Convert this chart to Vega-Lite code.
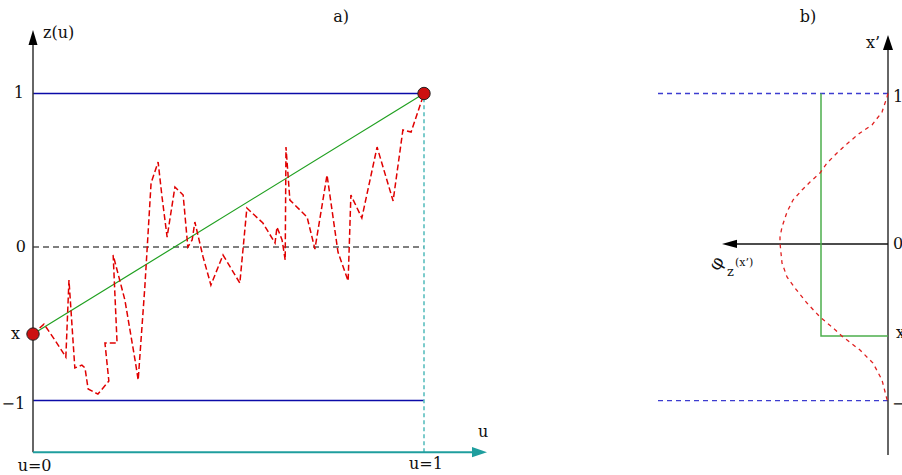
{
  "$schema": "https://vega.github.io/schema/vega-lite/v6.json",
  "width": 902,
  "height": 475,
  "autosize": {"type": "none"},
  "padding": 0,
  "background": "white",
  "config": {"view": {"stroke": null}, "axis": {"disable": true}, "text": {"font": "DejaVu Serif", "fontSize": 17, "color": "#111"}},
  "resolve": {"scale": {"x": "independent"}},
  "layer": [
    {
      "layer": [
        {
          "data": {"values": [{"u0": 0, "u1": 1, "z": 1}, {"u0": 0, "u1": 1, "z": -1}]},
          "mark": {"type": "rule", "color": "#0b0ba8", "strokeWidth": 1.5},
          "encoding": {
            "x": {"field": "u0", "type": "quantitative", "scale": {"domain": [-0.0844, 2.2225], "nice": false, "zero": false}},
            "x2": {"field": "u1"},
            "y": {"field": "z", "type": "quantitative", "scale": {"domain": [-1.485, 1.609], "nice": false, "zero": false}}
          }
        },
        {
          "data": {"values": [{"u0": 0, "u1": 1, "z": 0}]},
          "mark": {"type": "rule", "color": "#555555", "strokeWidth": 1.5, "strokeDash": [6, 4]},
          "encoding": {
            "x": {"field": "u0", "type": "quantitative", "scale": {"domain": [-0.0844, 2.2225], "nice": false, "zero": false}},
            "x2": {"field": "u1"},
            "y": {"field": "z", "type": "quantitative", "scale": {"domain": [-1.485, 1.609], "nice": false, "zero": false}}
          }
        },
        {
          "data": {"values": [{"u": 1, "z0": -1.336, "z1": 1}]},
          "mark": {"type": "rule", "color": "#5bbfbf", "strokeWidth": 1.6, "strokeDash": [4, 3]},
          "encoding": {
            "x": {"field": "u", "type": "quantitative", "scale": {"domain": [-0.0844, 2.2225], "nice": false, "zero": false}},
            "y": {"field": "z0", "type": "quantitative", "scale": {"domain": [-1.485, 1.609], "nice": false, "zero": false}},
            "y2": {"field": "z1"}
          }
        },
        {
          "data": {"values": [{"u": 0, "z0": -1.336, "z1": 1.316}]},
          "mark": {"type": "rule", "color": "#333333", "strokeWidth": 1.5},
          "encoding": {
            "x": {"field": "u", "type": "quantitative", "scale": {"domain": [-0.0844, 2.2225], "nice": false, "zero": false}},
            "y": {"field": "z0", "type": "quantitative", "scale": {"domain": [-1.485, 1.609], "nice": false, "zero": false}},
            "y2": {"field": "z1"}
          }
        },
        {
          "data": {"values": [{"u0": 0, "u1": 1.123, "z": -1.336}]},
          "mark": {"type": "rule", "color": "#1f9e9e", "strokeWidth": 2},
          "encoding": {
            "x": {"field": "u0", "type": "quantitative", "scale": {"domain": [-0.0844, 2.2225], "nice": false, "zero": false}},
            "x2": {"field": "u1"},
            "y": {"field": "z", "type": "quantitative", "scale": {"domain": [-1.485, 1.609], "nice": false, "zero": false}}
          }
        },
        {
          "data": {"values": [{"u": 0, "z": 1.365}]},
          "mark": {"type": "point", "shape": "M0,-1L0.6,1L-0.6,1Z", "filled": true, "color": "#000000", "size": 225, "opacity": 1},
          "encoding": {
            "x": {"field": "u", "type": "quantitative", "scale": {"domain": [-0.0844, 2.2225], "nice": false, "zero": false}},
            "y": {"field": "z", "type": "quantitative", "scale": {"domain": [-1.485, 1.609], "nice": false, "zero": false}}
          }
        },
        {
          "data": {"values": [{"u": 1.142, "z": -1.336}]},
          "mark": {"type": "point", "shape": "M1,0L-1,0.667L-1,-0.667Z", "filled": true, "color": "#1f9e9e", "size": 225, "opacity": 1},
          "encoding": {
            "x": {"field": "u", "type": "quantitative", "scale": {"domain": [-0.0844, 2.2225], "nice": false, "zero": false}},
            "y": {"field": "z", "type": "quantitative", "scale": {"domain": [-1.485, 1.609], "nice": false, "zero": false}}
          }
        },
        {
          "data": {"values": [{"i": 1, "u": 0, "z": -0.567}, {"i": 2, "u": 1, "z": 1}]},
          "mark": {"type": "line", "color": "#20a020", "strokeWidth": 1.2},
          "encoding": {
            "x": {"field": "u", "type": "quantitative", "scale": {"domain": [-0.0844, 2.2225], "nice": false, "zero": false}},
            "y": {"field": "z", "type": "quantitative", "scale": {"domain": [-1.485, 1.609], "nice": false, "zero": false}},
            "order": {"field": "i", "type": "quantitative"}
          }
        },
        {
          "data": {"values": [
            {"i": 1, "u": 0.000, "z": -0.567}, {"i": 2, "u": 0.028, "z": -0.502}, {"i": 3, "u": 0.056, "z": -0.606},
            {"i": 4, "u": 0.084, "z": -0.717}, {"i": 5, "u": 0.092, "z": -0.215}, {"i": 6, "u": 0.107, "z": -0.788},
            {"i": 7, "u": 0.125, "z": -0.769}, {"i": 8, "u": 0.133, "z": -0.788}, {"i": 9, "u": 0.141, "z": -0.925},
            {"i": 10, "u": 0.166, "z": -0.958}, {"i": 11, "u": 0.194, "z": -0.873}, {"i": 12, "u": 0.184, "z": -0.625},
            {"i": 13, "u": 0.215, "z": -0.625}, {"i": 14, "u": 0.205, "z": -0.052}, {"i": 15, "u": 0.235, "z": -0.345},
            {"i": 16, "u": 0.261, "z": -0.736}, {"i": 17, "u": 0.269, "z": -0.866}, {"i": 18, "u": 0.286, "z": -0.261},
            {"i": 19, "u": 0.302, "z": 0.417}, {"i": 20, "u": 0.320, "z": 0.554}, {"i": 21, "u": 0.330, "z": 0.326},
            {"i": 22, "u": 0.343, "z": 0.065}, {"i": 23, "u": 0.363, "z": 0.391}, {"i": 24, "u": 0.384, "z": 0.339},
            {"i": 25, "u": 0.396, "z": 0.000}, {"i": 26, "u": 0.407, "z": 0.046}, {"i": 27, "u": 0.414, "z": 0.163},
            {"i": 28, "u": 0.435, "z": -0.065}, {"i": 29, "u": 0.455, "z": -0.248}, {"i": 30, "u": 0.486, "z": -0.052},
            {"i": 31, "u": 0.529, "z": -0.235}, {"i": 32, "u": 0.547, "z": 0.254}, {"i": 33, "u": 0.588, "z": 0.156},
            {"i": 34, "u": 0.619, "z": 0.026}, {"i": 35, "u": 0.624, "z": 0.130}, {"i": 36, "u": 0.637, "z": 0.046},
            {"i": 37, "u": 0.645, "z": -0.085}, {"i": 38, "u": 0.647, "z": 0.651}, {"i": 39, "u": 0.657, "z": 0.306},
            {"i": 40, "u": 0.701, "z": 0.195}, {"i": 41, "u": 0.721, "z": -0.013}, {"i": 42, "u": 0.752, "z": 0.469},
            {"i": 43, "u": 0.780, "z": -0.033}, {"i": 44, "u": 0.806, "z": -0.221}, {"i": 45, "u": 0.813, "z": 0.339},
            {"i": 46, "u": 0.841, "z": 0.189}, {"i": 47, "u": 0.880, "z": 0.651}, {"i": 48, "u": 0.921, "z": 0.300},
            {"i": 49, "u": 0.946, "z": 0.762}, {"i": 50, "u": 0.967, "z": 0.749}, {"i": 51, "u": 1.000, "z": 1.000}
          ]},
          "mark": {"type": "line", "color": "#e00000", "strokeWidth": 1.5, "strokeDash": [6, 3]},
          "encoding": {
            "x": {"field": "u", "type": "quantitative", "scale": {"domain": [-0.0844, 2.2225], "nice": false, "zero": false}},
            "y": {"field": "z", "type": "quantitative", "scale": {"domain": [-1.485, 1.609], "nice": false, "zero": false}},
            "order": {"field": "i", "type": "quantitative"}
          }
        },
        {
          "data": {"values": [{"u": 0, "z": -0.567}, {"u": 1, "z": 1}]},
          "mark": {"type": "circle", "size": 154, "fill": "#cc1010", "stroke": "#222222", "strokeWidth": 1, "opacity": 1},
          "encoding": {
            "x": {"field": "u", "type": "quantitative", "scale": {"domain": [-0.0844, 2.2225], "nice": false, "zero": false}},
            "y": {"field": "z", "type": "quantitative", "scale": {"domain": [-1.485, 1.609], "nice": false, "zero": false}}
          }
        },
        {
          "data": {"values": [{"u": -0.023, "z": 1, "label": "1"}, {"u": -0.018, "z": 0, "label": "0"}, {"u": -0.033, "z": -0.567, "label": "x"}, {"u": -0.020, "z": -1.02, "label": "−1"}]},
          "mark": {"type": "text", "align": "right", "baseline": "middle", "font": "DejaVu Serif", "fontSize": 16},
          "encoding": {
            "x": {"field": "u", "type": "quantitative", "scale": {"domain": [-0.0844, 2.2225], "nice": false, "zero": false}},
            "y": {"field": "z", "type": "quantitative", "scale": {"domain": [-1.485, 1.609], "nice": false, "zero": false}},
            "text": {"field": "label"}
          }
        },
        {
          "data": {"values": [{"u": 0.0256, "z": 1.394, "label": "z(u)"}]},
          "mark": {"type": "text", "align": "left", "baseline": "middle", "font": "DejaVu Serif", "fontSize": 16},
          "encoding": {
            "x": {"field": "u", "type": "quantitative", "scale": {"domain": [-0.0844, 2.2225], "nice": false, "zero": false}},
            "y": {"field": "z", "type": "quantitative", "scale": {"domain": [-1.485, 1.609], "nice": false, "zero": false}},
            "text": {"field": "label"}
          }
        },
        {
          "data": {"values": [{"u": 0.788, "z": 1.498, "label": "a)"}, {"u": 0.004, "z": -1.425, "label": "u=0"}, {"u": 1.005, "z": -1.415, "label": "u=1"}, {"u": 1.151, "z": -1.205, "label": "u"}]},
          "mark": {"type": "text", "align": "center", "baseline": "middle", "font": "DejaVu Serif", "fontSize": 16},
          "encoding": {
            "x": {"field": "u", "type": "quantitative", "scale": {"domain": [-0.0844, 2.2225], "nice": false, "zero": false}},
            "y": {"field": "z", "type": "quantitative", "scale": {"domain": [-1.485, 1.609], "nice": false, "zero": false}},
            "text": {"field": "label"}
          }
        }
      ]
    },
    {
      "layer": [
        {
          "data": {"values": [{"d0": 0, "d1": 2.33, "z": 1}, {"d0": 0, "d1": 2.33, "z": -1}]},
          "mark": {"type": "rule", "color": "#3c3cd0", "strokeWidth": 1.3, "strokeDash": [5, 4]},
          "encoding": {
            "x": {"field": "d0", "type": "quantitative", "scale": {"domain": [-0.14, 8.88], "nice": false, "zero": false, "reverse": true}},
            "x2": {"field": "d1"},
            "y": {"field": "z", "type": "quantitative", "scale": {"domain": [-1.485, 1.609], "nice": false, "zero": false}}
          }
        },
        {
          "data": {"values": [{"d": 0, "z0": -1.355, "z1": 1.283}]},
          "mark": {"type": "rule", "color": "#333333", "strokeWidth": 1.5},
          "encoding": {
            "x": {"field": "d", "type": "quantitative", "scale": {"domain": [-0.14, 8.88], "nice": false, "zero": false, "reverse": true}},
            "y": {"field": "z0", "type": "quantitative", "scale": {"domain": [-1.485, 1.609], "nice": false, "zero": false}},
            "y2": {"field": "z1"}
          }
        },
        {
          "data": {"values": [{"d0": 0, "d1": 1.51, "z": 0.02}]},
          "mark": {"type": "rule", "color": "#111111", "strokeWidth": 1.5},
          "encoding": {
            "x": {"field": "d0", "type": "quantitative", "scale": {"domain": [-0.14, 8.88], "nice": false, "zero": false, "reverse": true}},
            "x2": {"field": "d1"},
            "y": {"field": "z", "type": "quantitative", "scale": {"domain": [-1.485, 1.609], "nice": false, "zero": false}}
          }
        },
        {
          "data": {"values": [{"d": 0, "z": 1.332}]},
          "mark": {"type": "point", "shape": "M0,-1L0.667,1L-0.667,1Z", "filled": true, "color": "#000000", "size": 225, "opacity": 1},
          "encoding": {
            "x": {"field": "d", "type": "quantitative", "scale": {"domain": [-0.14, 8.88], "nice": false, "zero": false, "reverse": true}},
            "y": {"field": "z", "type": "quantitative", "scale": {"domain": [-1.485, 1.609], "nice": false, "zero": false}}
          }
        },
        {
          "data": {"values": [{"d": 1.585, "z": 0.02}]},
          "mark": {"type": "point", "shape": "M-1,0L1,0.55L1,-0.55Z", "filled": true, "color": "#000000", "size": 225, "opacity": 1},
          "encoding": {
            "x": {"field": "d", "type": "quantitative", "scale": {"domain": [-0.14, 8.88], "nice": false, "zero": false, "reverse": true}},
            "y": {"field": "z", "type": "quantitative", "scale": {"domain": [-1.485, 1.609], "nice": false, "zero": false}}
          }
        },
        {
          "data": {"values": [{"i": 1, "d": 0.67, "z": 1}, {"i": 2, "d": 0.67, "z": -0.58}, {"i": 3, "d": 0, "z": -0.58}]},
          "mark": {"type": "line", "color": "#4caf4c", "strokeWidth": 1.5},
          "encoding": {
            "x": {"field": "d", "type": "quantitative", "scale": {"domain": [-0.14, 8.88], "nice": false, "zero": false, "reverse": true}},
            "y": {"field": "z", "type": "quantitative", "scale": {"domain": [-1.485, 1.609], "nice": false, "zero": false}},
            "order": {"field": "i", "type": "quantitative"}
          }
        },
        {
          "data": {"values": [
            {"d": 0, "z": 1.0}, {"d": 0.01, "z": 0.977}, {"d": 0.06, "z": 0.879}, {"d": 0.16, "z": 0.795},
            {"d": 0.28, "z": 0.743}, {"d": 0.40, "z": 0.678}, {"d": 0.51, "z": 0.612}, {"d": 0.61, "z": 0.547},
            {"d": 0.68, "z": 0.482}, {"d": 0.78, "z": 0.423}, {"d": 0.86, "z": 0.371}, {"d": 0.95, "z": 0.306},
            {"d": 1.01, "z": 0.228}, {"d": 1.06, "z": 0.130}, {"d": 1.08, "z": 0.065}, {"d": 1.08, "z": 0.026},
            {"d": 1.06, "z": -0.104}, {"d": 1.01, "z": -0.195}, {"d": 0.93, "z": -0.267}, {"d": 0.81, "z": -0.365},
            {"d": 0.68, "z": -0.456}, {"d": 0.56, "z": -0.521}, {"d": 0.45, "z": -0.586}, {"d": 0.28, "z": -0.671},
            {"d": 0.15, "z": -0.756}, {"d": 0.06, "z": -0.866}, {"d": 0.01, "z": -0.993}, {"d": 0, "z": -1.0}
          ]},
          "mark": {"type": "line", "color": "#e02020", "strokeWidth": 1.3, "strokeDash": [4, 4]},
          "encoding": {
            "x": {"field": "d", "type": "quantitative", "scale": {"domain": [-0.14, 8.88], "nice": false, "zero": false, "reverse": true}},
            "y": {"field": "z", "type": "quantitative", "scale": {"domain": [-1.485, 1.609], "nice": false, "zero": false}},
            "order": {"field": "z", "type": "quantitative", "sort": "descending"}
          }
        },
        {
          "data": {"values": [{"d": -0.05, "z": 0.98, "label": "1"}, {"d": -0.05, "z": 0.02, "label": "0"}, {"d": -0.08, "z": -0.56, "label": "x"}, {"d": -0.04, "z": -1.02, "label": "−1"}]},
          "mark": {"type": "text", "align": "left", "baseline": "middle", "font": "DejaVu Serif", "fontSize": 16},
          "encoding": {
            "x": {"field": "d", "type": "quantitative", "scale": {"domain": [-0.14, 8.88], "nice": false, "zero": false, "reverse": true}},
            "y": {"field": "z", "type": "quantitative", "scale": {"domain": [-1.485, 1.609], "nice": false, "zero": false}},
            "text": {"field": "label"}
          }
        },
        {
          "data": {"values": [{"d": 0.15, "z": 1.329, "label": "x’"}, {"d": 0.80, "z": 1.498, "label": "b)"}]},
          "mark": {"type": "text", "align": "center", "baseline": "middle", "font": "DejaVu Serif", "fontSize": 16},
          "encoding": {
            "x": {"field": "d", "type": "quantitative", "scale": {"domain": [-0.14, 8.88], "nice": false, "zero": false, "reverse": true}},
            "y": {"field": "z", "type": "quantitative", "scale": {"domain": [-1.485, 1.609], "nice": false, "zero": false}},
            "text": {"field": "label"}
          }
        },
        {
          "data": {"values": [{"d": 1.71, "z": -0.11, "label": "φ"}]},
          "mark": {"type": "text", "align": "center", "baseline": "middle", "font": "DejaVu Serif", "fontSize": 18, "angle": 300},
          "encoding": {
            "x": {"field": "d", "type": "quantitative", "scale": {"domain": [-0.14, 8.88], "nice": false, "zero": false, "reverse": true}},
            "y": {"field": "z", "type": "quantitative", "scale": {"domain": [-1.485, 1.609], "nice": false, "zero": false}},
            "text": {"field": "label"}
          }
        },
        {
          "data": {"values": [{"d": 1.575, "z": -0.16, "label": "z"}]},
          "mark": {"type": "text", "align": "center", "baseline": "middle", "font": "DejaVu Serif", "fontSize": 13},
          "encoding": {
            "x": {"field": "d", "type": "quantitative", "scale": {"domain": [-0.14, 8.88], "nice": false, "zero": false, "reverse": true}},
            "y": {"field": "z", "type": "quantitative", "scale": {"domain": [-1.485, 1.609], "nice": false, "zero": false}},
            "text": {"field": "label"}
          }
        },
        {
          "data": {"values": [{"d": 1.53, "z": -0.105, "label": "(x’)"}]},
          "mark": {"type": "text", "align": "left", "baseline": "middle", "font": "DejaVu Serif", "fontSize": 11},
          "encoding": {
            "x": {"field": "d", "type": "quantitative", "scale": {"domain": [-0.14, 8.88], "nice": false, "zero": false, "reverse": true}},
            "y": {"field": "z", "type": "quantitative", "scale": {"domain": [-1.485, 1.609], "nice": false, "zero": false}},
            "text": {"field": "label"}
          }
        }
      ]
    }
  ]
}
